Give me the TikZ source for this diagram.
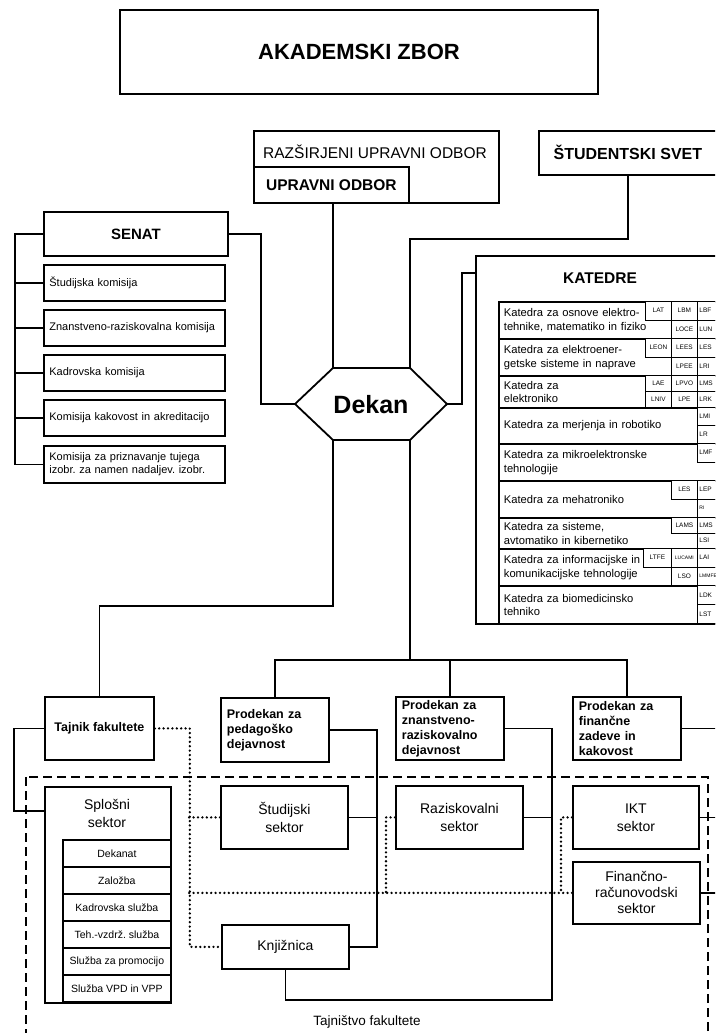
\documentclass[tikz,border=0pt]{standalone}
\usepackage{fontspec}
\setmainfont{Liberation Sans}
\frenchspacing
\newcommand\fs[2]{\fontsize{#1}{#2}\selectfont}
\tikzset{
 bx/.style={draw, line width=1.8pt, fill=white, inner sep=0pt},
 ln/.style={line width=1.8pt},
 dt/.style={line width=2.6pt, dash pattern=on 0pt off 4.4pt, line cap=round},
 dsh/.style={line width=1.3pt, dash pattern=on 9pt off 5pt},
 cell/.style={draw, fill=white, line width=0.8pt, inner sep=0pt, font=\fs{6.5}{7}},
 kom/.style={bx, anchor=north west, text width=170pt, inner xsep=5.5pt, align=left, font=\fs{11}{13}},
 katrow/.style={bx, anchor=north west, text width=217pt, inner xsep=5pt, align=left, font=\fs{11.2}{13.5}},
 pro/.style={bx, anchor=north west, text width=96pt, inner xsep=6pt, inner ysep=1pt, align=left, font=\bfseries\fs{12.5}{15}},
 sek/.style={bx, anchor=north west, align=center, font=\fs{14}{18}},
 sub/.style={bx, anchor=north west, minimum width=108pt, minimum height=27pt, font=\fs{10.5}{12}}
}
\newcommand\cel[6]{\node[cell,anchor=north west,minimum width=#4,minimum height=#5] (#1) at (#2,#3) {#6};}
\newcommand\celr[4]{\node[cell,anchor=north west,text width=24pt,inner xsep=2pt,align=left,minimum height=#3] (#1) at (697,#2) {#4};}
\begin{document}
\begin{tikzpicture}[x=1pt,y=-1pt]
\useasboundingbox (0,0) rectangle (715,1033);
\clip (0,0) rectangle (715,1033);
\fill[white] (0,0) rectangle (715,1033);

% dashed region
\draw[dsh] (26,777) rectangle (708,1060);
\node[font=\fs{13.5}{16}] (tajnl) at (367,1022) {Tajništvo fakultete};

% top
\node[bx, minimum width=478, minimum height=84, font=\bfseries\fs{22}{26}] (zbor) at (359,52) {AKADEMSKI ZBOR};
\node[bx, minimum width=245, minimum height=72, anchor=north west] (ruo) at (253,130) {};
\node[font=\fs{15.5}{18}, inner sep=0pt] (ruot) at (375,152) {RAZŠIRJENI UPRAVNI ODBOR};
\node[bx, minimum width=155, minimum height=36, anchor=north west, font=\bfseries\fs{15.5}{18}] (uo) at (253,166) {UPRAVNI ODBOR};
\node[bx, minimum width=178, minimum height=44, anchor=north west, font=\bfseries\fs{16}{19}] (ss) at (538,130) {ŠTUDENTSKI SVET};

% senat
\node[bx, minimum width=184, minimum height=44, anchor=north west, font=\bfseries\fs{15}{18}] (senat) at (43,211) {SENAT};
\node[kom, minimum height=36] (k1) at (43,264) {Študijska komisija};
\node[kom, minimum height=36] (k2) at (43,309) {Znanstveno-raziskovalna komisija};
\node[kom, minimum height=36] (k3) at (43,354) {Kadrovska komisija};
\node[kom, minimum height=36] (k4) at (43,399) {Komisija kakovost in akreditacijo};
\node[kom, minimum height=37] (k5) at (43,445) {Komisija za priznavanje tujega\\izobr. za namen nadaljev. izobr.};

% dekan
\coordinate (dtl) at (333,368);
\coordinate (dtr) at (410,368);
\coordinate (dr) at (447,404);
\coordinate (dbr) at (410,440);
\coordinate (dbl) at (333,440);
\coordinate (dl) at (295,404);
\draw[ln, fill=white] (dtl) -- (dtr) -- (dr) -- (dbr) -- (dbl) -- (dl) -- cycle;
\node[font=\bfseries\fs{25}{30}] (dekan) at (371,405) {Dekan};

% katedre
\node[bx, minimum width=250, minimum height=368, anchor=north west] (kat) at (475,255) {};
\node[font=\bfseries\fs{15.5}{18}] (katt) at (600,278) {KATEDRE};
\node[katrow, minimum height=37] (r1) at (498,301) {Katedra za osnove elektro-\\tehnike, matematiko in fiziko};
\node[katrow, minimum height=37] (r2) at (498,338) {Katedra za elektroener-\\getske sisteme in naprave};
\node[katrow, minimum height=32] (r3) at (498,375) {Katedra za\\elektroniko};
\node[katrow, minimum height=36] (r4) at (498,407) {Katedra za merjenja in robotiko};
\node[katrow, minimum height=37] (r5) at (498,443) {Katedra za mikroelektronske\\tehnologije};
\node[katrow, minimum height=37] (r6) at (498,480) {Katedra za mehatroniko};
\node[katrow, minimum height=31] (r7) at (498,517) {Katedra za sisteme,\\avtomatiko in kibernetiko};
\node[katrow, minimum height=37] (r8) at (498,548) {Katedra za informacijske in\\komunikacijske tehnologije};
\node[katrow, minimum height=38] (r9) at (498,585) {Katedra za biomedicinsko\\tehniko};

\cel{a1}{645}{301}{26}{18.5}{LAT}
\cel{a2}{671}{301}{26}{18.5}{LBM}
\celr{a3}{301}{18.5}{LBF}
\cel{a4}{671}{319.5}{26}{18.5}{LOCE}
\celr{a5}{319.5}{18.5}{LUN}
\cel{b1}{645}{338}{26}{18.5}{LEON}
\cel{b2}{671}{338}{26}{18.5}{LEES}
\celr{b3}{338}{18.5}{LES}
\cel{b4}{671}{356.5}{26}{18.5}{LPEE}
\celr{b5}{356.5}{18.5}{LRI}
\cel{c1}{645}{375}{26}{16}{LAE}
\cel{c2}{671}{375}{26}{16}{LPVO}
\celr{c3}{375}{16}{LMS}
\cel{c4}{645}{391}{26}{16}{LNIV}
\cel{c5}{671}{391}{26}{16}{LPE}
\celr{c6}{391}{16}{LRK}
\celr{d1}{407}{18}{LMI}
\celr{d2}{425}{18}{LR}
\celr{e1}{443}{18.5}{LMF}
\cel{f1}{671}{480}{26}{18.5}{LES}
\celr{f2}{480}{18.5}{LEP}
\celr{f3}{498.5}{18.5}{\fs{5}{6}RI}
\cel{g1}{671}{517}{26}{15.5}{LAMS}
\celr{g2}{517}{15.5}{LMS}
\celr{g3}{532.5}{15.5}{LSI}
\cel{h1}{643}{548}{28}{18.5}{LTFE}
\cel{h2}{671}{548}{26}{18.5}{\fs{5}{6}LUCAMI}
\celr{h3}{548}{18.5}{LAI}
\cel{h4}{671}{566.5}{26}{18.5}{LSO}
\celr{h5}{566.5}{18.5}{\fs{5}{6}LMMFE}
\celr{i1}{585}{19}{LDK}
\celr{i2}{604}{19}{LST}

% bottom level
\node[bx, minimum width=109, minimum height=63, anchor=north west, font=\bfseries\fs{12.5}{15}] (taj) at (44,696) {Tajnik fakultete};
\node[pro, minimum height=64] (ppd) at (220,697) {Prodekan za\\pedagoško\\dejavnost};
\node[pro, minimum height=63] (pzn) at (395,696) {Prodekan za\\znanstveno-\\raziskovalno\\dejavnost};
\node[pro, minimum height=63] (pfz) at (572,696) {Prodekan za\\finančne\\zadeve in\\kakovost};

\node[sek, minimum width=127, minimum height=63] (stud) at (220,785) {Študijski\\sektor};
\node[sek, minimum width=127, minimum height=63] (raz) at (395,785) {Raziskovalni\\sektor};
\node[sek, minimum width=126, minimum height=63] (ikt) at (572,785) {IKT\\sektor};
\node[sek, minimum width=127, minimum height=62, font=\fs{14}{16}] (fin) at (572,861) {Finančno-\\računovodski\\sektor};
\node[sek, minimum width=127, minimum height=44] (knj) at (221,924) {Knjižnica};

\node[bx, minimum width=126, minimum height=216, anchor=north west] (spl) at (44,786) {};
\node[font=\fs{14}{18}, align=center] (splt) at (107,813) {Splošni\\sektor};
\node[sub] (s1) at (62,839) {Dekanat};
\node[sub] (s2) at (62,866) {Založba};
\node[sub] (s3) at (62,893) {Kadrovska služba};
\node[sub] (s4) at (62,920) {Teh.-vzdrž. služba};
\node[sub] (s5) at (62,947) {Služba za promocijo};
\node[sub] (s6) at (62,974) {Služba VPD in VPP};

% connectors top
\draw[ln] (uo.south -| dtl) -- (dtl);
\draw[ln] (ss.south) -- ++(0,63) -| (dtr);
\draw[ln] (senat.east) -- ++(32,0) |- (dl);
\draw[ln] (senat.west) -- ++(-28,0) |- (k5.west);
\foreach \k in {k1,k2,k3,k4} \draw[ln] (\k.west) -- ++(-28,0);
\draw[ln] (dr) -- ++(15,0) |- ([yshift=-18pt]kat.north west);

% connectors bottom
\coordinate (hub) at (410,660);
\draw[ln] (dbl) -- ++(0,166) -| (taj.north);
\draw[ln] (dbr) -- (hub) -| (ppd.north);
\draw[ln] (hub) -| (pzn.north);
\draw[ln] (hub) -| (pfz.north);
\draw[ln] (ppd.east) -- ++(47,0) |- (knj.east);
\draw[ln] (stud.east) -- ++(28,0);
\draw[ln] (pzn.east) -- ++(47,0) |- ([yshift=-30pt]knj.south) -- (knj.south);
\draw[ln] (raz.east) -- ++(28,0);
\draw[ln] (pfz.east) -- ++(50,0) |- (fin.east);
\draw[ln] (ikt.east) -- ++(40,0);
\draw[ln] (taj.west) -- ++(-30,0) |- ([yshift=-25pt]spl.north west);

% dotted
\draw[dt] (taj.east) -- ++(35,0) |- (knj.west);
\draw[dt] (stud.west) -- ++(-32,0);
\draw[dt] (fin.west) -- ++(-384,0);
\draw[dt] (raz.west) -- ++(-9,0) -- ++(0,75.5);
\draw[dt] (ikt.west) -- ++(-11,0) -- ++(0,75.5);
\end{tikzpicture}
\end{document}
